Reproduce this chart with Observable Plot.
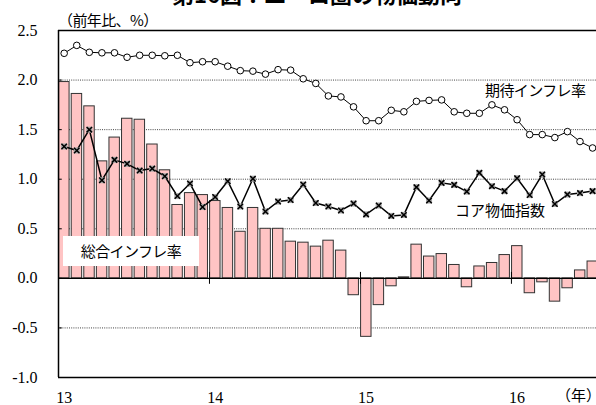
<!DOCTYPE html>
<html>
<head>
<meta charset="utf-8">
<script src="https://cdn.jsdelivr.net/npm/d3@7"></script>
<script src="https://cdn.jsdelivr.net/npm/@observablehq/plot@0.6"></script>
<style>
  body { margin: 0; background: #fff; }
  #wrap { position: relative; width: 596px; height: 405px; overflow: hidden; }
  .lbl { position: absolute; font-family: "Noto Sans CJK JP", sans-serif; color: #000; white-space: nowrap; }
</style>
</head>
<body>
<div id="wrap">
  <div id="chart"></div>
  <div class="lbl" style="left:172px; top:-18px; font-size:22px; font-weight:bold; line-height:22px;">第16図：ユーロ圏の物価動向</div>
  <div class="lbl" style="left:58px; top:11px; font-size:15px; line-height:18px; letter-spacing:-0.6px;">（前年比、%）</div>
  <div class="lbl" style="left:485px; top:81px; font-size:15px; line-height:18px; letter-spacing:-0.6px;">期待インフレ率</div>
  <div class="lbl" style="left:455px; top:201px; font-size:15px; line-height:18px; letter-spacing:0px;">コア物価指数</div>
  <div class="lbl" style="left:63px; top:236px; width:136px; height:30px; background:#fff; font-size:15px; line-height:30px; text-align:center; letter-spacing:-0.6px;">総合インフレ率</div>
  <div class="lbl" style="left:556px; top:387px; font-size:15px; line-height:18px; font-family:'Liberation Serif','Noto Sans CJK JP',serif;">（年）</div>
</div>
<script>
// Monthly data, Jan 2013 – Jul 2016 (year-on-year, %)
const headline = [
  1.98, 1.86, 1.735, 1.18, 1.42, 1.61, 1.60, 1.35, 1.09, 0.74, 0.86, 0.84,
  0.78, 0.71, 0.47, 0.71, 0.50, 0.50, 0.37, 0.36, 0.32, 0.38, 0.28, -0.17,
  -0.59, -0.27, -0.08, 0.01, 0.34, 0.22, 0.245, 0.135, -0.09, 0.12, 0.155, 0.235,
  0.325, -0.15, -0.04, -0.235, -0.10, 0.08, 0.17
];
const core = [
  1.33, 1.29, 1.50, 0.99, 1.195, 1.155, 1.087, 1.107, 1.03, 0.83, 0.956, 0.72,
  0.82, 0.98, 0.725, 1.005, 0.675, 0.775, 0.79, 0.946, 0.76, 0.725, 0.685, 0.755,
  0.645, 0.735, 0.63, 0.64, 0.92, 0.785, 0.963, 0.943, 0.875, 1.064, 0.93, 0.88,
  1.01, 0.84, 1.047, 0.75, 0.845, 0.86, 0.88
];
const expected = [
  2.27, 2.35, 2.28, 2.275, 2.275, 2.23, 2.25, 2.25, 2.245, 2.25, 2.175, 2.185,
  2.185, 2.14, 2.095, 2.09, 2.06, 2.105, 2.10, 2.013, 1.966, 1.84, 1.83, 1.73,
  1.59, 1.59, 1.695, 1.68, 1.785, 1.795, 1.80, 1.68, 1.665, 1.665, 1.75, 1.70,
  1.60, 1.45, 1.45, 1.42, 1.48, 1.38, 1.315
];
const yearLabels = ["13", "14", "15", "16"];
const yearStarts = [0, 12, 24, 36];          // month index of each January
const yTicks = [-1.0, -0.5, 0.0, 0.5, 1.0, 1.5, 2.0, 2.5];
const gridValues = [-0.5, 0.5, 1.0, 1.5, 2.0];
const frameValues = [-1.0, 2.5];

const nMonths = headline.length;
const idx = d3.range(nMonths);
const mid = i => i + 0.45;

const chart = Plot.plot({
  width: 596,
  height: 405,
  marginTop: 30,
  marginBottom: 28,
  marginLeft: 58,
  marginRight: -3,
  style: {background: "transparent", overflow: "visible"},
  x: {domain: [0, nMonths], axis: null},
  y: {domain: [-1, 2.5], axis: null},
  marks: [
    Plot.ruleY(gridValues, {stroke: "#444", strokeWidth: 1, strokeDasharray: "1,1.2"}),
    Plot.rectY(idx, {
      x1: i => i + 0.05, x2: i => i + 0.88,
      y1: 0, y2: i => headline[i],
      fill: "#ffc4c4", stroke: "#333", strokeWidth: 1
    }),
    Plot.ruleY([0], {stroke: "#000", strokeWidth: 1.2}),
    Plot.ruleY(frameValues, {stroke: "#000", strokeWidth: 1.5}),
    Plot.ruleX([0], {stroke: "#000", strokeWidth: 1.5}),
    Plot.ruleY(yTicks, {x1: 0, x2: 0.3, stroke: "#000"}),
    Plot.ruleX(yearStarts.slice(1), {y1: -0.06, y2: 0.06, stroke: "#000", strokeWidth: 1}),
    // expected inflation
    Plot.line(idx, {x: mid, y: i => expected[i], stroke: "#000", strokeWidth: 1}),
    Plot.dot(idx, {x: mid, y: i => expected[i], r: 3.3, fill: "#fff", stroke: "#000", strokeWidth: 1}),
    // core
    Plot.line(idx, {x: mid, y: i => core[i], stroke: "#000", strokeWidth: 1.5}),
    Plot.dot(idx, {x: mid, y: i => core[i], symbol: "square", r: 3.4, fill: "#a8a8a8", stroke: "none"}),
    Plot.dot(idx, {x: mid, y: i => core[i], symbol: "times", r: 2.6, stroke: "#000", strokeWidth: 1.5}),
    // y axis labels
    Plot.text(yTicks, {
      x: 0, y: d => d, text: d => d.toFixed(1), textAnchor: "end", dx: -21,
      fontSize: 16, fontFamily: "Liberation Serif", fill: "#000"
    }),
    // x axis labels
    Plot.text(yearLabels, {
      x: (d, k) => mid(yearStarts[k]), y: -1, text: d => d, dy: 20,
      fontSize: 16, fontFamily: "Liberation Serif", fill: "#000"
    })
  ]
});
document.getElementById("chart").appendChild(chart);
</script>
</body>
</html>
